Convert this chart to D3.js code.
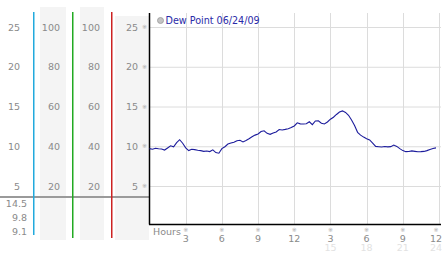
<!DOCTYPE html>
<html><head><meta charset="utf-8">
<script src="https://cdn.jsdelivr.net/npm/d3@7"></script>
<style>body{margin:0;background:#fff}svg{display:block}text{font-family:"DejaVu Sans",Verdana,sans-serif}</style>
</head><body>
<script>
const hours = d3.range(0, 24, 0.25);
const dewPoint = [9.70,9.62,9.75,9.68,9.66,9.52,9.78,10.05,9.92,10.45,10.82,10.38,
9.80,9.45,9.62,9.58,9.50,9.45,9.36,9.40,9.33,9.55,9.20,9.12,
9.70,9.94,10.28,10.40,10.50,10.70,10.75,10.55,10.72,10.95,11.20,11.40,
11.55,11.85,11.95,11.62,11.50,11.68,11.80,12.10,12.05,12.12,12.20,12.35,
12.55,12.95,12.82,12.80,12.84,13.08,12.72,13.18,13.20,12.90,12.80,13.05,
13.40,13.65,14.00,14.30,14.45,14.25,13.90,13.30,12.60,11.75,11.40,11.15,
10.95,10.80,10.40,9.98,9.94,9.90,9.96,9.92,9.95,10.15,9.98,9.70,
9.45,9.32,9.33,9.42,9.36,9.30,9.32,9.35,9.45,9.60,9.72,9.80];
const yTicks = [25,20,15,10,5];
const pctTicks = [100,80,60,40,20];
const xTicks = [3,6,9,12,15,18,21,24];
const xTickLabels = ["3","6","9","12","3","6","9","12"];
const xTickLabels24 = ["","","","","15","18","21","24"];
const statLabels = ["14.5","9.8","9.1"];
const legendLabel = "Dew Point 06/24/09";

const W=442,H=253;
const svg=d3.select("body").append("svg").attr("width",W).attr("height",H);
const x=d3.scaleLinear().domain([0,24]).range([149.5,439]);
const y=d3.scaleLinear().domain([5,25]).range([186,27]);
const yp=d3.scaleLinear().domain([20,100]).range([186,27]);
const gray="#8a8a8a";
const labX=(d,i)=> i==7 ? 436 : x(d);

// left panel bands
[[40,7,26],[80,7,24],[115,16,34]].forEach(([bx,by,bw])=>{
  svg.append("rect").attr("x",bx).attr("y",by).attr("width",bw).attr("height",240-by).attr("fill","#f4f4f4");
});
// gridlines
svg.append("g").selectAll("line").data(yTicks).join("line")
  .attr("x1",149.5).attr("x2",441).attr("y1",d=>y(d)+0.5).attr("y2",d=>y(d)+0.5)
  .attr("stroke","#dcdcdc").attr("stroke-width",1);
svg.append("g").selectAll("line").data(xTicks).join("line")
  .attr("x1",d=>Math.round(x(d))+0.5).attr("x2",d=>Math.round(x(d))+0.5).attr("y1",13).attr("y2",224)
  .attr("stroke","#dcdcdc").attr("stroke-width",1);

// separator gray line
svg.append("line").attr("x1",0).attr("x2",149).attr("y1",197).attr("y2",197).attr("stroke","#9a9a9a").attr("stroke-width",2);
// colored vertical lines
[[33,"#22aadd",235],[72,"#22aa22",238],[111,"#cc2222",238]].forEach(([lx,c,ly])=>{
  svg.append("rect").attr("x",lx).attr("y",12).attr("width",1.5).attr("height",ly-12).attr("fill",c);
});

// left labels
const cols=[{xr:20,t:yTicks,s:y},{xr:60,t:pctTicks,s:yp},{xr:100,t:pctTicks,s:yp},{xr:138,t:yTicks,s:y}];
cols.forEach(c=>{
  svg.append("g").selectAll("text").data(c.t).join("text")
   .attr("x",c.xr).attr("y",d=>c.s(d)+3.5).attr("text-anchor","end")
   .attr("font-size",9.5).attr("fill",gray).text(d=>d);
});
// tick marks glyphs left of axis
svg.append("g").selectAll("text").data(yTicks).join("text")
  .attr("x",147).attr("y",d=>y(d)+2).attr("text-anchor","end").attr("font-size",6).attr("fill","#aaa").text("※");
// stat labels
svg.append("g").selectAll("text").data(statLabels).join("text")
  .attr("x",27).attr("y",(d,i)=>207+i*14).attr("text-anchor","end").attr("font-size",9.5).attr("fill",gray).text(d=>d);

// axes
svg.append("line").attr("x1",149.5).attr("x2",149.5).attr("y1",13).attr("y2",224.5).attr("stroke","#000").attr("stroke-width",1.5);
svg.append("line").attr("x1",149).attr("x2",441).attr("y1",224.5).attr("y2",224.5).attr("stroke","#000").attr("stroke-width",1.5);

// x labels
svg.append("text").attr("x",153).attr("y",235).attr("font-size",9.5).attr("fill",gray).text("Hours");
svg.append("g").selectAll("text").data(xTicks).join("text")
  .attr("x",labX).attr("y",232).attr("text-anchor","middle").attr("font-size",6).attr("fill","#aaa").text("※");
svg.append("g").selectAll("text").data(xTicks).join("text")
  .attr("x",labX).attr("y",241.5).attr("text-anchor","middle").attr("font-size",9.5).attr("fill",gray).text((d,i)=>xTickLabels[i]);
svg.append("g").selectAll("text").data(xTicks).join("text")
  .attr("x",labX).attr("y",251).attr("text-anchor","middle").attr("font-size",9.5).attr("fill","#e2e2e2").text((d,i)=>xTickLabels24[i]);

// data line
svg.append("path").datum(dewPoint.map((v,i)=>[hours[i],v]))
  .attr("d",d3.line().x(d=>x(d[0])).y(d=>y(d[1])))
  .attr("fill","none").attr("stroke","#1c1c9c").attr("stroke-width",1.1);

// legend
svg.append("circle").attr("cx",160.5).attr("cy",20.5).attr("r",3).attr("fill","#c4c4c4").attr("stroke","#999").attr("stroke-width",0.8);
svg.append("text").attr("x",165.5).attr("y",24).attr("font-size",9.6).attr("fill","#2a2aa8").text(legendLabel);
</script>
</body></html>
